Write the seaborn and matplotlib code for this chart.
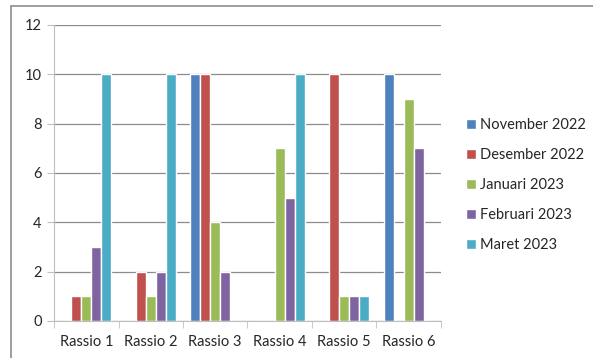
import matplotlib
matplotlib.use('Agg')
import matplotlib.pyplot as plt
import pandas as pd
import seaborn as sns
from matplotlib.patches import Rectangle

# Data
categories = ['Rassio 1', 'Rassio 2', 'Rassio 3', 'Rassio 4', 'Rassio 5', 'Rassio 6']
months = ['November 2022', 'Desember 2022', 'Januari 2023', 'Februari 2023', 'Maret 2023']
nov_2022 = [0, 0, 10, 0, 0, 10]
des_2022 = [1, 2, 10, 0, 10, 0]
jan_2023 = [1, 1, 4, 7, 1, 9]
feb_2023 = [3, 2, 2, 5, 1, 7]
mar_2023 = [10, 10, 0, 10, 1, 0]

colors = ['#4F81BD', '#C0504D', '#9BBB59', '#8064A2', '#4BACC6']

series = [nov_2022, des_2022, jan_2023, feb_2023, mar_2023]
rows = []
for month, vals in zip(months, series):
    for cat, v in zip(categories, vals):
        rows.append({'Rassio': cat, 'Bulan': month, 'Nilai': v})
df = pd.DataFrame(rows)

sns.set_style('white')
plt.rcParams['font.family'] = ['Lato', 'DejaVu Sans']

fig = plt.figure(figsize=(5.93, 3.58), dpi=100)
ax = fig.add_axes([54 / 593, 37 / 358, 387 / 593, 296 / 358])

sns.barplot(data=df, x='Rassio', y='Nilai', hue='Bulan', hue_order=months,
            palette=colors, width=0.77, saturation=1, ax=ax, errorbar=None)

ax.set_ylim(0, 12)
ax.set_yticks(range(0, 13, 2))
ax.set_xlim(-0.5, 5.5)
ax.set_xlabel('')
ax.set_ylabel('')
ax.yaxis.grid(True, color='#8C8C8C', linewidth=0.9)
ax.set_axisbelow(True)
for side in ['top', 'right']:
    ax.spines[side].set_visible(False)
ax.spines['left'].set_color('#BFBFBF')
ax.spines['bottom'].set_color('#BFBFBF')

# category boundary ticks on x axis, outward ticks on y axis
ax.set_xticks([i - 0.5 for i in range(7)], minor=True)
ax.tick_params(axis='x', which='minor', length=5, color='#BFBFBF', direction='out', bottom=True)
ax.tick_params(axis='x', which='major', length=0, labelsize=10.5, pad=10)
ax.tick_params(axis='y', length=5, color='#BFBFBF', direction='out', left=True, labelsize=10.5, pad=4)

ax.legend(loc='center left', bbox_to_anchor=(453 / 593, 173 / 358), bbox_transform=fig.transFigure,
          frameon=False, fontsize=10.5, handlelength=0.7, handleheight=0.7,
          handletextpad=0.25, labelspacing=1.1)

# outer chart frame
fig.add_artist(Rectangle((11 / 593, -0.1), 1.0, 352 / 358 + 0.1, transform=fig.transFigure,
                         fill=False, edgecolor='#8C8C8C', linewidth=1.2))

fig.savefig('out.png', dpi=100)
